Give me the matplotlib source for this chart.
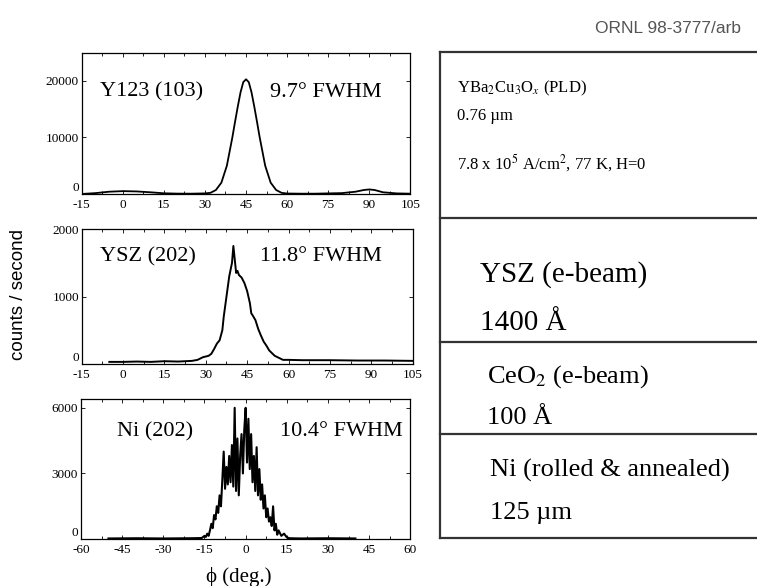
import matplotlib.pyplot as plt

plt.rcParams['mathtext.fontset'] = 'stix'
plt.rcParams['axes.unicode_minus'] = False
serif = ['Liberation Serif', 'DejaVu Serif']

# Y123 (103) phi scan
y123_phi = [-15, -10, -5, 0, 5, 10, 15, 20, 25, 30, 32, 34, 36, 38, 40, 41, 42, 43, 44,
            45, 46, 47, 48, 49, 50, 52, 54, 56, 58, 60, 65, 70, 75, 80, 85, 88, 90, 92,
            95, 100, 105]
y123_cts = [0, 150, 400, 500, 450, 300, 120, 60, 50, 100, 200, 700, 2000, 5000, 10000,
            12800, 15500, 18000, 19800, 20300, 19800, 18000, 15500, 12800, 10000, 5000,
            2000, 700, 200, 80, 50, 50, 100, 150, 400, 700, 800, 700, 300, 100, 50]

# YSZ (202) phi scan
ysz_phi = [-5, 0, 5, 10, 15, 20, 25, 27, 28, 29, 30, 31, 32, 33, 34, 35, 36, 36.5, 37,
           37.5, 38, 38.5, 39, 39.5, 40, 40.5, 41, 41.5, 42, 43, 44, 45, 46, 46.5, 47,
           48, 49, 50, 51, 52, 53, 54, 55, 56, 57, 58, 60, 65, 75, 85, 95, 105]
ysz_cts = [30, 30, 35, 30, 40, 35, 45, 60, 80, 100, 110, 120, 150, 220, 300, 350, 500,
           700, 850, 1000, 1150, 1300, 1400, 1500, 1750, 1550, 1350, 1380, 1320, 1280,
           1200, 1080, 900, 750, 720, 650, 520, 420, 330, 270, 200, 160, 120, 100, 80,
           60, 60, 55, 55, 50, 50, 45]

# Ni (202) phi scan
ni_phi = [-50, -40, -30, -20, -16, -15, -14.5, -14, -13.5, -13, -12.5, -12, -11.5, -11,
          -10.5, -10, -9.5, -9, -8.5, -8, -7.5, -7, -6.5, -6, -5.5, -5, -4.5, -4, -3.5,
          -3, -2.5, -2, -1.5, -1, -0.5, 0, 0.5, 1, 1.5, 2, 2.5, 3, 3.5, 4, 4.5, 5, 5.5,
          6, 6.5, 7, 7.5, 8, 8.5, 9, 9.5, 10, 10.5, 11, 11.5, 12, 13, 14, 15, 16, 20,
          30, 40]
ni_cts = [30, 40, 30, 40, 50, 150, 100, 250, 150, 400, 700, 500, 1100, 900, 1500, 1200,
          2000, 1500, 2700, 4000, 2300, 3300, 2500, 3800, 2600, 4300, 2400, 6000, 2200,
          4600, 2000, 3800, 4800, 3000, 5000, 6000, 3500, 5500, 3200, 4800, 2600, 3800,
          2200, 4200, 2000, 3200, 1800, 2500, 1400, 2000, 1000, 1400, 800, 1000, 600,
          1500, 400, 700, 200, 400, 150, 250, 80, 40, 30, 40, 30]

fig = plt.figure(figsize=(7.57, 5.86), dpi=100)


def style(ax, xlim, xticks, ylim, yticks):
    ax.set_xlim(*xlim)
    ax.set_ylim(*ylim)
    ax.set_xticks(xticks)
    ax.set_yticks(yticks)
    ax.set_xticks([x + 7.5 for x in xticks[:-1]], minor=True)
    ax.tick_params(direction='in', top=True, right=True, length=3, width=0.6, pad=2)
    ax.tick_params(axis='x', pad=3.5)
    ax.tick_params(which='minor', direction='in', top=True, length=2, width=0.6)
    for lab in ax.get_xticklabels() + ax.get_yticklabels():
        lab.set_family(serif)
        lab.set_fontsize(9.5)
    # the "0" label sits just above the corner, clear of the first x label
    ax.get_yticklabels()[0].set_verticalalignment('bottom')
    for s in ax.spines.values():
        s.set_linewidth(0.9)


ax1 = fig.add_axes([0.108, 0.669, 0.434, 0.241])
ax1.plot(y123_phi, y123_cts, color='black', linewidth=1.3)
style(ax1, (-15, 105), list(range(-15, 106, 15)), (0, 25000), [0, 10000, 20000])

ax2 = fig.add_axes([0.108, 0.379, 0.437, 0.230])
ax2.plot(ysz_phi, ysz_cts, color='black', linewidth=1.4)
style(ax2, (-15, 105), list(range(-15, 106, 15)), (0, 2000), [0, 1000, 2000])

ax3 = fig.add_axes([0.107, 0.080, 0.435, 0.239])
ax3.plot(ni_phi, ni_cts, color='black', linewidth=1.5)
style(ax3, (-60, 60), list(range(-60, 61, 15)), (0, 6400), [0, 3000, 6000])

# labels inside the panels
fig.text(0.132, 0.843, 'Y123 (103)', family=serif, fontsize=16, va='center')
fig.text(0.357, 0.843, '9.7° FWHM', family=serif, fontsize=16, va='center')
fig.text(0.132, 0.561, 'YSZ (202)', family=serif, fontsize=16, va='center')
fig.text(0.343, 0.563, '11.8° FWHM', family=serif, fontsize=16, va='center')
fig.text(0.155, 0.263, 'Ni (202)', family=serif, fontsize=16, va='center')
fig.text(0.370, 0.263, '10.4° FWHM', family=serif, fontsize=16, va='center')

fig.text(0.024, 0.497, 'counts / second', family=['Liberation Sans', 'DejaVu Sans'],
         fontsize=13.5, rotation=90, ha='center', va='center')
fig.text(0.315, 0.015, 'ϕ (deg.)', family=serif, fontsize=15, ha='center', va='center')
fig.text(0.786, 0.952, 'ORNL 98-3777/arb', family=['Liberation Sans', 'DejaVu Sans'],
         fontsize=12.5, color='#555555', va='center')

# layer stack on the right
box_x = 0.5812
box_lines = [0.9113, 0.628, 0.4164, 0.2594, 0.0819]
for yl in box_lines:
    fig.add_artist(plt.Line2D([box_x, 1.01], [yl, yl], color='#333333', linewidth=1.6))
fig.add_artist(plt.Line2D([box_x, box_x], [box_lines[-1], box_lines[0]],
                          color='#333333', linewidth=1.6))

fig.text(0.604, 0.850, r'YBa$_2$Cu$_3$O$_x$ (PLD)', family=serif, fontsize=12, va='center')
fig.text(0.604, 0.802, '0.76 µm', family=serif, fontsize=12, va='center')
fig.text(0.604, 0.722, r'7.8 x 10$^5$ A/cm$^2$, 77 K, H=0', family=serif, fontsize=12,
         va='center')
fig.text(0.634, 0.532, 'YSZ (e-beam)', family=serif, fontsize=21, va='center')
fig.text(0.634, 0.449, '1400 Å', family=serif, fontsize=21, va='center')
fig.text(0.643, 0.358, r'CeO$_2$ (e-beam)', family=serif, fontsize=19, va='center')
fig.text(0.643, 0.287, '100 Å', family=serif, fontsize=19, va='center')
fig.text(0.647, 0.198, 'Ni (rolled & annealed)', family=serif, fontsize=19, va='center')
fig.text(0.647, 0.125, '125 µm', family=serif, fontsize=19, va='center')

fig.savefig('out.png', dpi=100)
